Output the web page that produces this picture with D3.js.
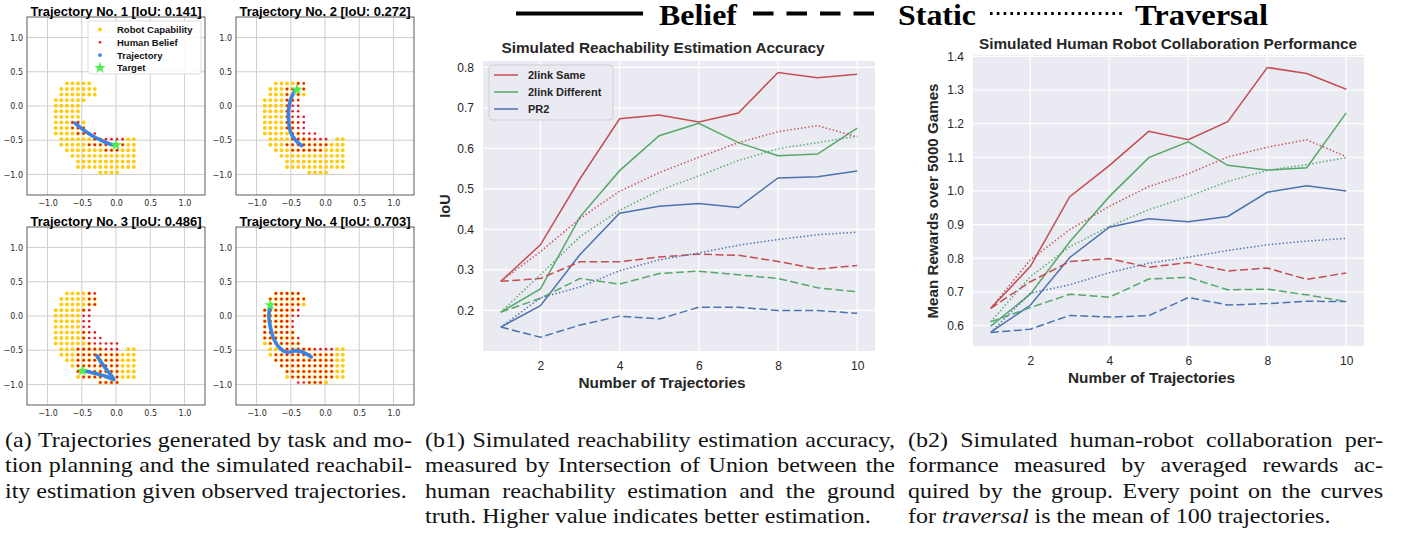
<!DOCTYPE html>
<html>
<head>
<meta charset="utf-8">
<script src="https://cdn.jsdelivr.net/npm/d3@7"></script>
<style>
  body { margin: 0; background: #fff; }
</style>
</head>
<body>
<svg id="fig" width="1405" height="535"></svg>
<script>
// ---------- data ----------
var trials = [1, 2, 3, 4, 5, 6, 7, 8, 9, 10];
var trialTicks = [2, 4, 6, 8, 10];
var groups = ["2link Same", "2link Different", "PR2"];
var groupColors = ["#c44e52", "#55a868", "#4c72b0"];
var methods = ["Belief", "Static", "Traversal"];

var iouBelief = [
  [0.272, 0.362, 0.525, 0.673, 0.682, 0.665, 0.687, 0.787, 0.774, 0.783],
  [0.196, 0.253, 0.431, 0.545, 0.631, 0.662, 0.614, 0.582, 0.586, 0.650],
  [0.159, 0.212, 0.338, 0.440, 0.457, 0.464, 0.454, 0.527, 0.530, 0.544]
];
var iouStatic = [
  [0.272, 0.279, 0.320, 0.320, 0.332, 0.339, 0.336, 0.321, 0.302, 0.311],
  [0.196, 0.230, 0.279, 0.265, 0.291, 0.297, 0.288, 0.279, 0.256, 0.246],
  [0.159, 0.134, 0.164, 0.186, 0.179, 0.208, 0.208, 0.200, 0.200, 0.193]
];
var iouTraversal = [
  [0.272, 0.345, 0.427, 0.494, 0.540, 0.578, 0.614, 0.641, 0.656, 0.628],
  [0.196, 0.288, 0.382, 0.447, 0.496, 0.532, 0.570, 0.599, 0.614, 0.630],
  [0.159, 0.231, 0.258, 0.298, 0.325, 0.342, 0.361, 0.375, 0.387, 0.393]
];
var iouTicks = [0.2, 0.3, 0.4, 0.5, 0.6, 0.7, 0.8];

var rewardBelief = [
  [0.651, 0.775, 0.983, 1.075, 1.177, 1.152, 1.206, 1.367, 1.349, 1.302],
  [0.598, 0.693, 0.849, 0.983, 1.099, 1.146, 1.076, 1.062, 1.069, 1.232],
  [0.580, 0.660, 0.802, 0.892, 0.917, 0.908, 0.924, 0.996, 1.015, 1.000]
];
var rewardStatic = [
  [0.651, 0.730, 0.790, 0.799, 0.773, 0.787, 0.762, 0.771, 0.737, 0.756],
  [0.611, 0.653, 0.693, 0.684, 0.738, 0.743, 0.706, 0.708, 0.691, 0.671],
  [0.579, 0.589, 0.630, 0.625, 0.629, 0.683, 0.661, 0.665, 0.672, 0.671]
];
var rewardTraversal = [
  [0.651, 0.795, 0.885, 0.954, 1.013, 1.051, 1.101, 1.130, 1.152, 1.102],
  [0.611, 0.745, 0.834, 0.895, 0.944, 0.983, 1.028, 1.061, 1.078, 1.099],
  [0.580, 0.696, 0.721, 0.757, 0.785, 0.803, 0.823, 0.840, 0.851, 0.859]
];
var rewardTicks = [0.6, 0.7, 0.8, 0.9, 1.0, 1.1, 1.2, 1.3, 1.4];

// trajectory panels
var trajTitles = ["Trajectory No. 1 [IoU: 0.141]", "Trajectory No. 2 [IoU: 0.272]",
                  "Trajectory No. 3 [IoU: 0.486]", "Trajectory No. 4 [IoU: 0.703]"];
var armTicks = [-1.0, -0.5, 0.0, 0.5, 1.0];
var gridOrigin = [-0.88, 0.33];   // workspace sample grid, first column / first row
var gridStep = 0.0814;
var capabilityMask = [
  "..11111........",
  ".1111111.......",
  ".1111111.......",
  "111111.........",
  "11111..........",
  "11111..........",
  "11111..........",
  "111111.........",
  "111111.........",
  "1111111........",
  ".11111111....11",
  ".11111111111111",
  "..1111111111111",
  "...111111111111",
  "....11111111111",
  "....11111111111",
  "........1111..."
];
var beliefMasks = [
  [
    "...............", "...............", "...............", "...............",
    "...............", "...............", "...............", "...11..........",
    "...111.........", "....1111.......", ".......111111..", "......1111111..",
    ".........111...", "...............", "...............", "...............",
    "..............."
  ],
  [
    "......11.......", "....1111.......", "....111........", "....111........",
    "....111........", "....111........", "....1111.......", "....1111.......",
    "....1111.......", ".....11111.....", ".....1111111...", "....11111111...",
    ".....111111....", "...............", "...............", "...............",
    "..............."
  ],
  [
    "......11.......", "......11.......", "......11.......", ".....11........",
    ".....11........", ".....11........", ".....11........", ".....111.......",
    ".....1111......", "......111111...", "....11111111...", "....11111111...",
    "....11111111...", "....11111111...", "....11111111...", ".....1111111...",
    "........1111..."
  ],
  [
    "..11111........", ".1111111.......", ".111111........", "1111111........",
    "1111111........", "111111.........", "111111.........", "111111.........",
    "1111111........", ".111111........", "...1111111111..", "..11111111111..",
    "..11111111111..", "...1111111111..", "....111111111..", ".....11111111..",
    "......11111...."
  ]
];
var trajPaths = [
  [[-0.6, -0.25], [-0.5, -0.33], [-0.4, -0.4], [-0.3, -0.46], [-0.2, -0.51], [-0.1, -0.55], [0.0, -0.57]],
  [[-0.34, -0.58], [-0.43, -0.5], [-0.5, -0.39], [-0.53, -0.22], [-0.53, -0.05], [-0.5, 0.1], [-0.45, 0.2], [-0.41, 0.24]],
  [[-0.28, -0.58], [-0.2, -0.7], [-0.1, -0.83], [-0.03, -0.93], [-0.15, -0.88], [-0.3, -0.84], [-0.42, -0.81], [-0.49, -0.8]],
  [[-0.2, -0.6], [-0.28, -0.55], [-0.35, -0.52], [-0.45, -0.51], [-0.55, -0.53], [-0.65, -0.48], [-0.74, -0.35], [-0.8, -0.15], [-0.82, 0.0], [-0.8, 0.16]]
];
var targets = [[0.0, -0.57], [-0.41, 0.24], [-0.49, -0.8], [-0.8, 0.16]];
var trajLegend = ["Robot Capability", "Human Belief", "Trajectory", "Target"];

var captionA = [
  "(a) Trajectories generated by task and mo-",
  "tion planning and the simulated reachabil-",
  "ity estimation given observed trajectories."
];
var captionB1 = [
  "(b1) Simulated reachability estimation accuracy,",
  "measured by Intersection of Union between the",
  "human reachability estimation and the ground",
  "truth. Higher value indicates better estimation."
];
var captionB2 = [
  "(b2) Simulated human-robot collaboration per-",
  "formance measured by averaged rewards ac-",
  "quired by the group. Every point on the curves",
  "for *traversal* is the mean of 100 trajectories."
];

// ---------- drawing ----------
var svg = d3.select("#fig");
var sans = "'Liberation Sans', Arial, sans-serif";
var serif = "'Liberation Serif', 'Times New Roman', serif";

var capColor = "#ffcc11", beliefColor = "#e8141c", trajColor = "#3a83e5", starColor = "#4cf04c";

function maskCells(mask) {
    var out = [];
    mask.forEach(function(row, r) {
        row.split("").forEach(function(ch, c) {
            if (ch === "1") out.push([gridOrigin[0] + c * gridStep, gridOrigin[1] - r * gridStep]);
        });
    });
    return out;
}

var panelLeft = [27, 236], panelTop = [17, 227], panelSize = 178;
var px = d3.scaleLinear().domain([-1.3, 1.3]).range([0, panelSize]);
var py = d3.scaleLinear().domain([-1.3, 1.3]).range([panelSize, 0]);
var tickFmt = d3.format(".1f");

trajTitles.forEach(function(title, i) {
    var g = svg.append("g")
        .attr("transform", `translate(${panelLeft[i % 2]},${panelTop[Math.floor(i / 2)]})`);

    g.selectAll(".vg").data(armTicks).join("line")
        .attr("x1", d => px(d)).attr("x2", d => px(d))
        .attr("y1", 0).attr("y2", panelSize)
        .attr("stroke", "#cfcfcf").attr("stroke-width", 1);
    g.selectAll(".hg").data(armTicks).join("line")
        .attr("y1", d => py(d)).attr("y2", d => py(d))
        .attr("x1", 0).attr("x2", panelSize)
        .attr("stroke", "#cfcfcf").attr("stroke-width", 1);

    g.append("g").selectAll("circle").data(maskCells(capabilityMask)).join("circle")
        .attr("cx", d => px(d[0])).attr("cy", d => py(d[1]))
        .attr("r", 1.95).attr("fill", capColor);

    g.append("g").selectAll("circle").data(maskCells(beliefMasks[i])).join("circle")
        .attr("cx", d => px(d[0])).attr("cy", d => py(d[1]))
        .attr("r", 1.3).attr("fill", beliefColor);

    g.append("path").datum(trajPaths[i])
        .attr("d", d3.line().x(d => px(d[0])).y(d => py(d[1])).curve(d3.curveCatmullRom))
        .attr("fill", "none").attr("stroke", trajColor)
        .attr("stroke-width", 3.6).attr("stroke-linecap", "round").attr("stroke-linejoin", "round");

    g.append("path")
        .attr("d", d3.symbol(d3.symbolStar, 42)())
        .attr("transform", `translate(${px(targets[i][0])},${py(targets[i][1])})`)
        .attr("fill", starColor);

    g.append("rect").attr("width", panelSize).attr("height", panelSize)
        .attr("fill", "none").attr("stroke", "#333").attr("stroke-width", 0.8);

    var ax = g.append("g").attr("transform", `translate(0,${panelSize})`)
        .call(d3.axisBottom(px).tickValues(armTicks).tickSize(0).tickPadding(5).tickFormat(tickFmt));
    var ay = g.append("g")
        .call(d3.axisLeft(py).tickValues(armTicks).tickSize(0).tickPadding(4).tickFormat(tickFmt));
    [ax, ay].forEach(function(a) {
        a.select(".domain").remove();
        a.attr("font-family", "'DejaVu Sans', sans-serif").attr("font-size", 8);
        a.selectAll("text").attr("fill", "#2a2a2a");
    });

    g.append("text")
        .attr("x", panelSize / 2).attr("y", -1.5)
        .attr("text-anchor", "middle")
        .attr("font-family", sans).attr("font-weight", "bold").attr("font-size", 13.5)
        .attr("textLength", 171).attr("lengthAdjust", "spacingAndGlyphs")
        .text(title);

    if (i === 0) {
        var lg = g.append("g").attr("transform", "translate(61,4)");
        lg.append("rect").attr("width", 113).attr("height", 53).attr("rx", 2)
            .attr("fill", "#fff").attr("fill-opacity", 0.85)
            .attr("stroke", "#d5d5d5").attr("stroke-width", 0.8);
        var rows = lg.selectAll(".item").data(trajLegend).join("g")
            .attr("transform", (d, k) => `translate(0,${8.5 + k * 12.8})`);
        rows.append("text")
            .attr("x", 29).attr("y", 3.4)
            .attr("font-family", sans).attr("font-weight", "bold").attr("font-size", 9.5)
            .attr("fill", "#111")
            .text(d => d);
        rows.each(function(d, k) {
            var r = d3.select(this);
            if (k === 0) r.append("circle").attr("cx", 12).attr("r", 1.95).attr("fill", capColor);
            if (k === 1) r.append("circle").attr("cx", 12).attr("r", 1.3).attr("fill", beliefColor);
            if (k === 2) r.append("circle").attr("cx", 12).attr("r", 1.95).attr("fill", trajColor);
            if (k === 3) r.append("path").attr("d", d3.symbol(d3.symbolStar, 42)())
                .attr("transform", "translate(12,0)").attr("fill", starColor);
        });
    }
});

// ---------- line charts ----------
var lineDash = { Belief: null, Static: "8,3.5", Traversal: "1.4,2.2" };

function drawChart(cfg) {
    var g = svg.append("g").attr("transform", `translate(${cfg.left},${cfg.top})`);
    var x = d3.scaleLinear().domain([0.55, 10.45]).range([0, cfg.width]);
    var y = d3.scaleLinear().domain(cfg.yDomain).range([cfg.height, 0]);

    g.append("rect").attr("width", cfg.width).attr("height", cfg.height).attr("fill", "#eaeaf2");
    g.selectAll(".xg").data(trialTicks).join("line")
        .attr("x1", d => x(d)).attr("x2", d => x(d)).attr("y1", 0).attr("y2", cfg.height)
        .attr("stroke", "#fff").attr("stroke-width", 1.2);
    g.selectAll(".yg").data(cfg.yTicks).join("line")
        .attr("y1", d => y(d)).attr("y2", d => y(d)).attr("x1", 0).attr("x2", cfg.width)
        .attr("stroke", "#fff").attr("stroke-width", 1.2);

    var ax = g.append("g").attr("transform", `translate(0,${cfg.height})`)
        .call(d3.axisBottom(x).tickValues(trialTicks).tickSize(0).tickPadding(10).tickFormat(d3.format("d")));
    var ay = g.append("g")
        .call(d3.axisLeft(y).tickValues(cfg.yTicks).tickSize(0).tickPadding(9).tickFormat(d3.format(".1f")));
    [ax, ay].forEach(function(a) {
        a.select(".domain").remove();
        a.attr("font-family", sans).attr("font-size", 12);
        a.selectAll("text").attr("fill", "#262626");
    });

    var line = d3.line().x((d, k) => x(trials[k])).y(d => y(d));
    cfg.series.forEach(function(set, m) {
        set.forEach(function(vals, k) {
            g.append("path").datum(vals)
                .attr("d", line)
                .attr("fill", "none")
                .attr("stroke", groupColors[k])
                .attr("stroke-width", 1.5)
                .attr("stroke-dasharray", lineDash[methods[m]]);
        });
    });

    svg.append("text")
        .attr("x", cfg.left + cfg.width / 2 + cfg.titleShift).attr("y", cfg.titleY)
        .attr("text-anchor", "middle")
        .attr("font-family", sans).attr("font-weight", "bold").attr("font-size", 14)
        .attr("fill", "#262626")
        .attr("textLength", cfg.titleLen).attr("lengthAdjust", "spacingAndGlyphs")
        .text(cfg.title);

    svg.append("text")
        .attr("x", cfg.left + cfg.width / 2 - 17).attr("y", cfg.top + cfg.height + 37)
        .attr("text-anchor", "middle")
        .attr("font-family", sans).attr("font-weight", "bold").attr("font-size", 14.5)
        .attr("fill", "#262626")
        .attr("textLength", 167).attr("lengthAdjust", "spacingAndGlyphs")
        .text("Number of Trajectories");

    var yl = svg.append("text")
        .attr("transform", `translate(${cfg.ylabelX},${cfg.ylabelY}) rotate(-90)`)
        .attr("text-anchor", "middle")
        .attr("font-family", sans).attr("font-weight", "bold").attr("font-size", 14.5)
        .attr("fill", "#262626")
        .text(cfg.ylabel);
    if (cfg.ylabelLen) yl.attr("textLength", cfg.ylabelLen).attr("lengthAdjust", "spacingAndGlyphs");

    if (cfg.legend) {
        var lg = g.append("g").attr("transform", "translate(6,4)");
        lg.append("rect").attr("width", 124).attr("height", 55).attr("rx", 3)
            .attr("fill", "#eaeaf2").attr("stroke", "#cccccc").attr("stroke-width", 0.9);
        var rows = lg.selectAll(".item").data(groups).join("g")
            .attr("transform", (d, k) => `translate(0,${10 + k * 17})`);
        rows.append("line").attr("x1", 5).attr("x2", 29)
            .attr("stroke", (d, k) => groupColors[k]).attr("stroke-width", 1.5);
        rows.append("text").attr("x", 39).attr("y", 4)
            .attr("font-family", sans).attr("font-weight", "bold").attr("font-size", 11)
            .attr("fill", "#262626")
            .text(d => d);
    }
}

drawChart({
    left: 483, top: 61, width: 392, height: 290,
    yDomain: [0.1, 0.8155], yTicks: iouTicks,
    series: [iouBelief, iouStatic, iouTraversal],
    title: "Simulated Reachability Estimation Accuracy", titleY: 53, titleLen: 323, titleShift: -16,
    ylabel: "IoU", ylabelX: 450, ylabelY: 206,
    legend: true
});

drawChart({
    left: 973, top: 55, width: 391, height: 291,
    yDomain: [0.539, 1.404], yTicks: rewardTicks,
    series: [rewardBelief, rewardStatic, rewardTraversal],
    title: "Simulated Human Robot Collaboration Performance", titleY: 48.5, titleLen: 378, titleShift: -0.5,
    ylabel: "Mean Rewards over 5000 Games", ylabelX: 938, ylabelY: 201, ylabelLen: 235,
    legend: false
});

// ---------- header key ----------
var headerLayout = [
    { x0: 516, x1: 643, tx: 659, tw: 78, dash: null, sw: 4 },
    { x0: 753, x1: 874, tx: 898, tw: 78, dash: "20.5,13", sw: 4 },
    { x0: 990, x1: 1124, tx: 1135, tw: 133, dash: "2.6,4.2", sw: 3 }
];
methods.forEach(function(m, i) {
    var h = headerLayout[i];
    svg.append("line")
        .attr("x1", h.x0).attr("x2", h.x1).attr("y1", 13.5).attr("y2", 13.5)
        .attr("stroke", "#000").attr("stroke-width", h.sw)
        .attr("stroke-dasharray", h.dash);
    svg.append("text")
        .attr("x", h.tx).attr("y", 24.5)
        .attr("font-family", serif).attr("font-weight", "bold").attr("font-size", 29)
        .attr("fill", "#000")
        .attr("textLength", h.tw).attr("lengthAdjust", "spacingAndGlyphs")
        .text(m);
});

// ---------- captions (justified) ----------
function caption(lines, x0, x1) {
    var sx = 1.2, w = (x1 - x0) / sx;
    var g = svg.append("g")
        .attr("transform", `translate(${x0},0) scale(${sx},1)`)
        .attr("font-family", serif).attr("font-size", 20).attr("fill", "#111");
    lines.forEach(function(line, li) {
        var yb = 447 + li * 25.5;
        var words = line.split(" ");
        var nodes = words.map(function(wd) {
            var it = /^\*.*\*$/.test(wd);
            return g.append("text").attr("y", yb)
                .attr("font-style", it ? "italic" : null)
                .text(it ? wd.slice(1, -1) : wd);
        });
        var widths = nodes.map(n => n.node().getComputedTextLength());
        var last = li === lines.length - 1;
        var gap = last ? 5 : (w - d3.sum(widths)) / (words.length - 1);
        var cx = 0;
        nodes.forEach(function(n, k) { n.attr("x", cx); cx += widths[k] + gap; });
    });
}

caption(captionA, 5, 412);
caption(captionB1, 425, 895);
caption(captionB2, 908, 1383);
</script>
</body>
</html>
